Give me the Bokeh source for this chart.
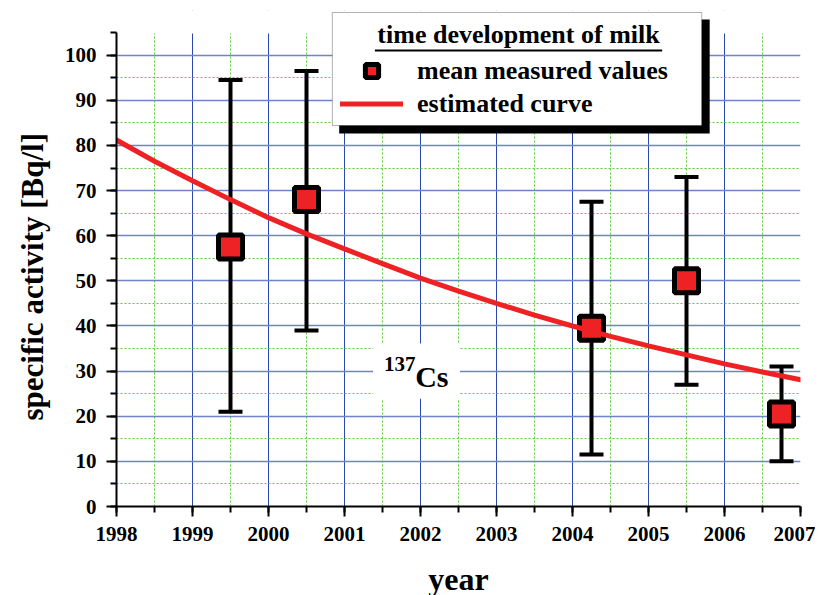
from bokeh.plotting import figure
from bokeh.models import (Range1d, SingleIntervalTicker, Whisker, ColumnDataSource, Label,
                          BoxAnnotation, Legend, LegendItem, TeeHead, Title)
from bokeh.embed import file_html
from bokeh.resources import INLINE

# ---- data ----
years = [1999.5, 2000.5, 2004.25, 2005.5, 2006.75]
mean_values = [57.5, 68.0, 39.5, 50.0, 20.5]
err_low = [21.0, 39.0, 11.5, 27.0, 10.0]
err_high = [94.5, 96.5, 67.5, 73.0, 31.0]

curve_years = [1998, 1998.5, 1999, 1999.5, 2000, 2000.5, 2001, 2001.5, 2002, 2002.5,
               2003, 2003.5, 2004, 2004.5, 2005, 2005.5, 2006, 2006.5, 2007]
curve_values = [81.2, 76.5, 72.2, 68.0, 64.0, 60.4, 57.1, 53.8, 50.6, 47.7,
                45.0, 42.4, 40.0, 37.7, 35.6, 33.6, 31.6, 29.8, 28.1]

# ---- style ----
FONT = "Liberation Serif"
RED = "#ee2224"
BLUE = "#2c48b0"
BLUE_H = "#6f84c8"
GREEN = "#5cc83c"
PX_PER_UNIT = 4.513
FRAME_H = 496

src = ColumnDataSource(dict(x=years, y=mean_values, lo=err_low, hi=err_high))
curve_src = ColumnDataSource(dict(x=curve_years, y=curve_values))

p = figure(frame_width=684, frame_height=FRAME_H,
           x_range=Range1d(1998, 2007), y_range=Range1d(0, FRAME_H / PX_PER_UNIT),
           output_backend="svg", toolbar_location=None,
           min_border_left=116, min_border_right=15, min_border_top=10, min_border_bottom=89)
p.outline_line_color = None
p.background_fill_color = "white"

# axes
p.xaxis.ticker = SingleIntervalTicker(interval=1, num_minor_ticks=2)
p.yaxis.ticker = SingleIntervalTicker(interval=10, num_minor_ticks=2)
p.yaxis.bounds = (0, 105)
p.axis.axis_line_width = 2
p.axis.axis_line_color = "black"
p.axis.major_tick_line_width = 2
p.axis.minor_tick_line_width = 2
p.axis.major_tick_out = 10
p.axis.major_tick_in = 0
p.axis.minor_tick_out = 6
p.axis.minor_tick_in = 0
p.axis.major_label_text_font = FONT
p.axis.major_label_text_font_style = "bold"
p.axis.major_label_text_font_size = "21px"
p.axis.major_label_text_color = "black"
p.axis.axis_label_text_font = FONT
p.axis.axis_label_text_font_style = "bold"
p.axis.axis_label_text_color = "black"
p.xaxis.axis_label = "year"
p.xaxis.axis_label_text_font_size = "32px"
p.xaxis.axis_label_standoff = 17
p.xaxis.major_label_standoff = 10
p.yaxis.major_label_standoff = 10

# y-axis title (placed in the left panel so it can be aligned like the reference)
ylab = Title(text="specific activity [Bq/l]", align="left", offset=86, standoff=23,
             text_font=FONT, text_font_style="bold", text_font_size="31px", text_color="black")
p.add_layout(ylab, "left")

# grids
p.grid.grid_line_width = 1
p.grid.grid_line_alpha = 1
p.xgrid.grid_line_color = BLUE
p.ygrid.grid_line_color = BLUE_H
p.ygrid.grid_line_width = 1.5
p.grid.minor_grid_line_color = GREEN
p.grid.minor_grid_line_width = 1
p.grid.minor_grid_line_dash = "2 2"

# keep the grid below the top of the axis (105)
p.add_layout(BoxAnnotation(bottom=104.8, fill_color="white", fill_alpha=1,
                           line_color=None, level="underlay"))

# error bars
wh = Whisker(base="x", lower="lo", upper="hi", source=src, line_color="black", line_width=4,
             upper_head=TeeHead(size=24, line_width=4, line_color="black"),
             lower_head=TeeHead(size=24, line_width=4, line_color="black"))
p.add_layout(wh)

sc = p.scatter("x", "y", source=src, marker="square", size=24, fill_color=RED,
               line_color="black", line_width=5)
ln = p.line("x", "y", source=curve_src, line_color=RED, line_width=5, line_cap="round")

# 137Cs label box
p.add_layout(BoxAnnotation(left=2001.375, right=2002.52, bottom=23.9, top=36.1,
                           fill_color="white", fill_alpha=1, line_color=None))
p.add_layout(Label(x=2001.52, y=31.6, text="137", text_font=FONT, text_font_style="bold",
                   text_font_size="21px", text_baseline="middle", text_color="black"))
p.add_layout(Label(x=2001.93, y=28.8, text="Cs", text_font=FONT, text_font_style="bold",
                   text_font_size="30px", text_baseline="middle", text_color="black"))

# legend frame with shadow
p.add_layout(BoxAnnotation(left=2000.93, right=2005.805, bottom=82.65, top=107.9,
                           fill_color="black", fill_alpha=1, line_color=None))
p.add_layout(BoxAnnotation(left=2000.84, right=2005.70, bottom=84.42, top=109.46,
                           fill_color="white", fill_alpha=1, line_color="black", line_width=1))
p.add_layout(Label(x=2003.29, y=104.5, text="time development of milk", text_font=FONT,
                   text_font_style="bold", text_font_size="26px", text_align="center",
                   text_baseline="middle", text_color="black"))
p.add_layout(BoxAnnotation(left=2001.40, right=2005.18, bottom=100.8, top=101.25,
                           fill_color="black", fill_alpha=1, line_color=None))

legend = Legend(items=[LegendItem(label="mean measured values", renderers=[sc]),
                       LegendItem(label="estimated curve", renderers=[ln])],
                location=(224, 386), orientation="vertical",
                glyph_width=63, glyph_height=33, label_height=33, spacing=0,
                padding=0, margin=0,
                label_standoff=14, border_line_color=None, background_fill_alpha=0,
                label_text_font=FONT, label_text_font_style="bold",
                label_text_font_size="26px", label_text_color="black")
p.add_layout(legend, "center")

open("out.html", "w").write(file_html(p, INLINE))
